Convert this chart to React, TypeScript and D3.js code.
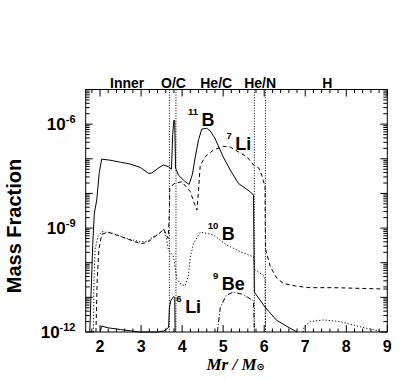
import React from "react";
import * as d3 from "d3";

// ---- data (x in Mr/Msun, y as log10 of mass fraction) ----
const b11X = [1.75, 1.78, 1.82, 1.86, 1.92, 1.98, 2.04, 2.24, 2.5, 2.73, 2.98, 3.18, 3.26, 3.42, 3.54, 3.67, 3.74, 3.77, 3.8, 3.82, 3.84, 3.91, 4.07, 4.17, 4.25, 4.32, 4.4, 4.48, 4.6, 4.68, 4.8, 5.0, 5.17, 5.37, 5.66, 5.74, 5.76, 6.02, 6.3, 6.63, 6.8];
const b11Y = [-12, -10.9, -9.5, -8.57, -8.19, -7.4, -7.01, -7.04, -7.1, -7.15, -7.25, -7.42, -7.41, -7.27, -7.18, -7.23, -7.3, -6.3, -5.88, -5.9, -7.27, -7.47, -7.66, -7.74, -7.45, -6.95, -6.45, -6.14, -6.12, -6.19, -6.41, -6.94, -7.32, -7.71, -7.95, -8.05, -10.85, -11.28, -11.66, -11.89, -12];

const li7X = [1.9, 1.93, 1.97, 2.04, 2.2, 2.45, 2.75, 2.98, 3.15, 3.3, 3.45, 3.55, 3.66, 3.69, 3.7, 3.8, 3.99, 4.2, 4.3, 4.36, 4.4, 4.44, 4.56, 4.76, 5.0, 5.17, 5.37, 5.58, 5.74, 5.87, 5.94, 6.02, 6.03, 6.15, 6.31, 6.47, 6.8, 7.12, 7.68, 8.95, 9.0];
const li7Y = [-12, -10.5, -9.63, -9.18, -9.12, -9.22, -9.35, -9.45, -9.42, -9.28, -9.15, -9.03, -9.3, -8.5, -7.85, -7.72, -7.66, -7.95, -8.3, -8.48, -7.9, -7.2, -6.94, -6.75, -6.64, -6.66, -6.8, -6.94, -7.18, -7.27, -7.47, -7.81, -9.6, -10.12, -10.45, -10.6, -10.68, -10.72, -10.72, -10.76, -10.76];

const b10X = [1.84, 1.85, 1.88, 1.95, 2.04, 2.3, 2.65, 2.98, 3.15, 3.3, 3.45, 3.55, 3.62, 3.66, 3.79, 3.87, 3.95, 4.07, 4.15, 4.2, 4.28, 4.44, 4.6, 4.76, 5.09, 5.41, 5.74, 5.77, 5.98, 6.02, 6.03];
const b10Y = [-12, -10.5, -9.6, -9.25, -9.1, -9.15, -9.3, -9.4, -9.38, -9.25, -9.15, -9.03, -9.3, -9.6, -9.83, -10.45, -10.6, -10.67, -10.4, -9.83, -9.44, -9.12, -9.15, -9.2, -9.49, -9.68, -9.83, -10.2, -10.36, -10.5, -12];

const b10OuterX = [6.95, 6.97, 7.12, 7.45, 7.85, 8.34, 8.91, 9.0];
const b10OuterY = [-12, -11.85, -11.7, -11.65, -11.7, -11.85, -12, -12];

const be9X = [4.86, 4.93, 5.07, 5.24, 5.44, 5.6, 5.74, 5.76];
const be9Y = [-12, -11.3, -10.95, -10.85, -10.9, -11.0, -11.1, -12];

const li6X = [2.0, 2.04, 2.2, 2.5, 2.77, 2.95, 3.4, 3.55, 3.67, 3.69, 3.72, 3.79, 3.82, 3.83];
const li6Y = [-12, -11.83, -11.88, -11.93, -11.97, -12, -12, -11.97, -11.87, -11.3, -11.1, -10.98, -11.0, -12];

const boundaries = [3.69, 3.85, 5.76, 6.03];
const zoneNames = ["Inner", "O/C", "He/C", "He/N", "H"];
const zoneCenters = [2.66, 3.79, 4.83, 5.9, 7.54];

const xTicks = [2, 3, 4, 5, 6, 7, 8, 9];
const yLabelExps = [-6, -9, -12];

const isoMass = ["11", "7", "10", "9", "6"];
const isoElem = ["B", "Li", "B", "Be", "Li"];
const isoX = [4.474, 5.293, 4.968, 4.968, 4.073];
const isoY = [-6.068, -6.747, -9.33, -10.788, -11.461];

export default function App() {
  const W = 415, H = 380;
  const L = 85.7, R = 387.3, T = 89.5, B = 332;
  const x = d3.scaleLinear().domain([1.65, 9]).range([L, R]);
  const y = d3.scaleLog().domain([1e-12, 1e-5]).range([B, T]);
  const yl = (v: number) => y(Math.pow(10, v));

  const mk = (xs: number[], ys: number[]) =>
    d3.line<number>().x((_, i) => x(xs[i])).y((_, i) => yl(ys[i]))(xs.map((_, i) => i)) || "";

  const sans = "'Liberation Sans', Arial, Helvetica, sans-serif";

  // ticks
  const minorX: number[] = d3.range(1.8, 9.001, 0.2).filter((v) => Math.abs(v - Math.round(v)) > 0.01);
  const majorY = d3.range(-12, -4);
  const minorY: number[] = [];
  for (let e = -12; e < -5; e++) for (let m = 2; m <= 9; m++) minorY.push(Math.log10(m) + e);

  const tickEls: JSX.Element[] = [];
  xTicks.forEach((v, i) => {
    tickEls.push(<line key={"xb" + i} x1={x(v)} x2={x(v)} y1={B} y2={B - 7} />);
    tickEls.push(<line key={"xt" + i} x1={x(v)} x2={x(v)} y1={T} y2={T + 7} />);
  });
  minorX.forEach((v, i) => {
    tickEls.push(<line key={"mxb" + i} x1={x(v)} x2={x(v)} y1={B} y2={B - 3.5} />);
    tickEls.push(<line key={"mxt" + i} x1={x(v)} x2={x(v)} y1={T} y2={T + 3.5} />);
  });
  majorY.forEach((v, i) => {
    tickEls.push(<line key={"yl" + i} x1={L} x2={L + 7} y1={yl(v)} y2={yl(v)} />);
    tickEls.push(<line key={"yr" + i} x1={R} x2={R - 7} y1={yl(v)} y2={yl(v)} />);
  });
  minorY.forEach((v, i) => {
    tickEls.push(<line key={"myl" + i} x1={L} x2={L + 4} y1={yl(v)} y2={yl(v)} />);
    tickEls.push(<line key={"myr" + i} x1={R} x2={R - 4} y1={yl(v)} y2={yl(v)} />);
  });

  return (
    <svg width={W} height={H} style={{ position: "absolute", left: 0, top: 0, background: "#fff" }}>
      <rect x={0} y={0} width={W} height={H} fill="#fff" />
      <g stroke="#000" strokeWidth={1} fill="none">
        {boundaries.map((b, i) => (
          <line key={"bd" + i} x1={x(b)} x2={x(b)} y1={T} y2={B} strokeDasharray="1,1.6" />
        ))}
        <path d={mk(b11X, b11Y)} />
        <path d={mk(li7X, li7Y)} strokeDasharray="4,3" />
        <path d={mk(b10X, b10Y)} strokeDasharray="1.2,2" />
        <path d={mk(b10OuterX, b10OuterY)} strokeDasharray="1.2,2" />
        <path d={mk(be9X, be9Y)} strokeDasharray="5,2,1,2" />
        <path d={mk(li6X, li6Y)} />
        {tickEls}
        <rect x={L} y={T} width={R - L} height={B - T} />
      </g>

      <g fontFamily={sans} fontWeight="bold" fill="#000">
        {zoneNames.map((z, i) => (
          <text key={"z" + i} x={x(zoneCenters[i])} y={88} fontSize={14} textAnchor="middle">{z}</text>
        ))}
        {xTicks.map((v, i) => (
          <text key={"xl" + i} x={x(v)} y={351.7} fontSize={16} textAnchor="middle">{v}</text>
        ))}
        {yLabelExps.map((e, i) => (
          <text key={"yl" + i} x={75.5} y={yl(e) + 5.5} fontSize={17} textAnchor="end">
            10<tspan fontSize={11} dy={-7}>{e}</tspan>
          </text>
        ))}
        <text transform={`translate(21,226) rotate(-90)`} fontSize={20} textAnchor="middle">Mass Fraction</text>
        {isoMass.map((m, i) => (
          <g key={"iso" + i}>
            <text x={x(isoX[i]) - 3.5} y={yl(isoY[i]) - 11} fontSize={9.5} textAnchor="end">{m}</text>
            <text x={x(isoX[i])} y={yl(isoY[i])} fontSize={18}>{isoElem[i]}</text>
          </g>
        ))}
      </g>
      <text x={206.5} y={370} fontFamily="'Liberation Serif', 'Times New Roman', serif" fontStyle="italic" fontWeight="bold" fontSize={17}>
        Mr / M<tspan fontSize={10} dy={0} fontStyle="normal" fontFamily="'DejaVu Sans', sans-serif">⊙</tspan>
      </text>
    </svg>
  );
}
